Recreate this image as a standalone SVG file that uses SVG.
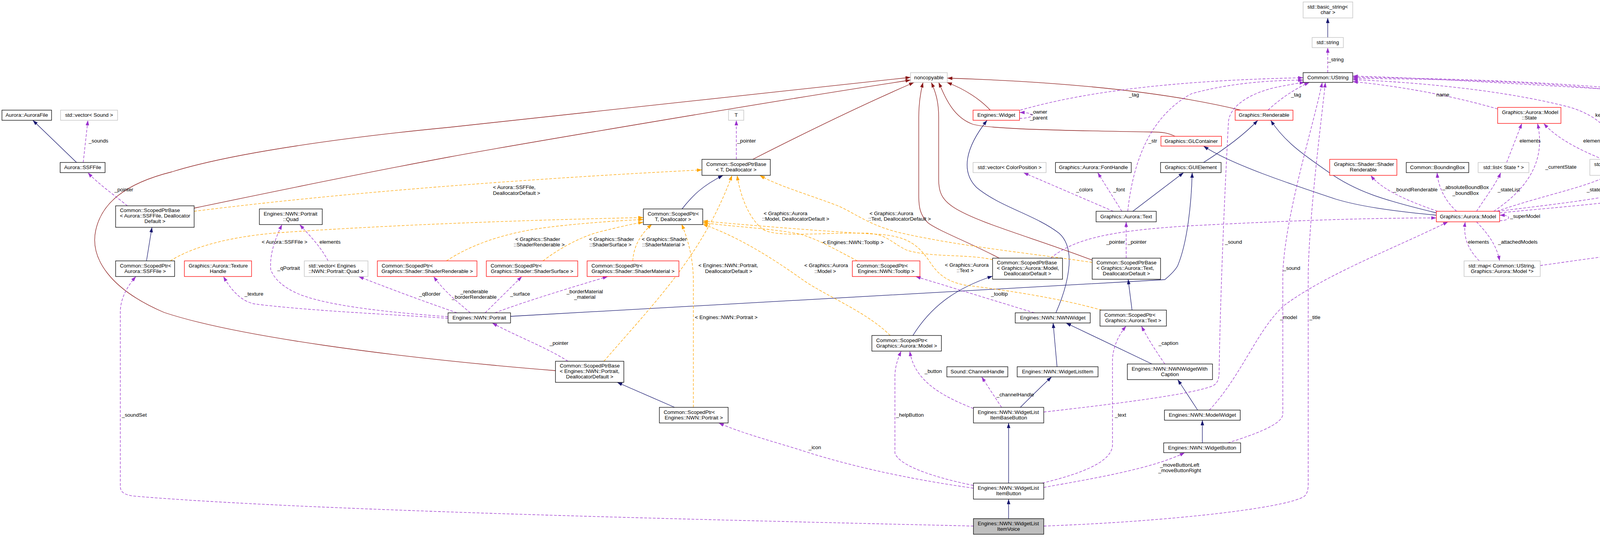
<svg xmlns="http://www.w3.org/2000/svg" width="4601" height="1375" viewBox="0 0 4601 1375">
<style>
text{font-family:"Liberation Sans",Arial,Helvetica,sans-serif;font-size:13.3px;fill:#000}
.m{text-anchor:middle}
rect.b{fill:#fff;stroke:#000;stroke-width:1.3}
rect.r{fill:#fff;stroke:#ff0000;stroke-width:1.3}
rect.g{fill:#fff;stroke:#bfbfbf;stroke-width:1.3}
rect.main{fill:#bfbfbf;stroke:#000;stroke-width:1.3}
.e{fill:none;stroke-width:1.3}
.inh{stroke:#191970;marker-end:url(#aN)}
.priv{stroke:#8b1a1a;marker-end:url(#aM)}
.use{stroke:#9a32cd;stroke-dasharray:7,4;marker-end:url(#aP)}
.tpl{stroke:#ffa500;stroke-dasharray:7,4;marker-end:url(#aO)}
</style>
<defs>
<marker id="aN" markerUnits="userSpaceOnUse" markerWidth="14" markerHeight="10" refX="13" refY="4.5" orient="auto"><path d="M0,0 L13,4.5 L0,9 z" fill="#191970"/></marker>
<marker id="aM" markerUnits="userSpaceOnUse" markerWidth="14" markerHeight="10" refX="13" refY="4.5" orient="auto"><path d="M0,0 L13,4.5 L0,9 z" fill="#8b1a1a"/></marker>
<marker id="aP" markerUnits="userSpaceOnUse" markerWidth="14" markerHeight="10" refX="13" refY="4.5" orient="auto"><path d="M0,0 L13,4.5 L0,9 z" fill="#9a32cd"/></marker>
<marker id="aO" markerUnits="userSpaceOnUse" markerWidth="14" markerHeight="10" refX="13" refY="4.5" orient="auto"><path d="M0,0 L13,4.5 L0,9 z" fill="#ffa500"/></marker>
</defs>
<rect x="0" y="0" width="4601" height="1375" fill="#fff"/>
<g id="edges">
<path class="e inh" d="M196,416 L84,308"/>
<path class="e inh" d="M3399,96 L3399,46"/>
<path class="e inh" d="M375,668 L389,582"/>
<path class="e inh" d="M1746,535 C1775,498 1800,475 1851,449"/>
<path class="e inh" d="M1727,1043 L1580,979"/>
<path class="e inh" d="M2337,859 C2380,790 2440,740 2541,707"/>
<path class="e inh" d="M2898,794 L2888,715"/>
<path class="e inh" d="M2900,541 L3030,442"/>
<path class="e inh" d="M3081,416 C3130,385 3180,350 3220,308"/>
<path class="e inh" d="M3677,545 C3540,512 3470,490 3400,440 C3340,398 3290,365 3253,308"/>
<path class="e inh" d="M3677,551 C3560,540 3480,528 3420,510 C3300,470 3150,420 3081,374"/>
<path class="e inh" d="M1307,810 L2982,716 C2995,705 3010,690 3015,680 C3040,620 3050,520 3052,442"/>
<path class="e inh" d="M2703,801 C2730,740 2760,640 2711,597 C2650,550 2560,530 2500,480 C2460,440 2470,380 2527,308"/>
<path class="e inh" d="M2706,939 L2696,827"/>
<path class="e inh" d="M2949,932 L2729,827"/>
<path class="e inh" d="M3066,1050 L3015,972"/>
<path class="e inh" d="M3078,1134 L3078,1076"/>
<path class="e inh" d="M2612,1043 C2630,1025 2660,995 2692,965"/>
<path class="e inh" d="M2582,1237 L2582,1083"/>
<path class="e inh" d="M2582,1328 L2582,1278"/>
<path class="e priv" d="M497,533 C750,480 1000,430 1150,402 S2000,255 2331,205"/>
<path class="e priv" d="M1422,949 C1000,915 600,860 420,800 C280,740 230,660 245,590 C260,520 320,470 440,440 C600,390 900,350 1150,326 L2331,198"/>
<path class="e priv" d="M1927,408 C2100,320 2250,250 2340,211"/>
<path class="e priv" d="M2558,661 C2480,620 2400,590 2375,570 C2355,550 2352,530 2352,500 L2352,300 C2352,260 2358,230 2363,211"/>
<path class="e priv" d="M2796,666 C2650,610 2500,570 2440,530 C2410,510 2403,490 2403,460 L2403,300 C2403,260 2395,235 2384,211"/>
<path class="e priv" d="M2535,282 C2510,255 2470,228 2424,211"/>
<path class="e priv" d="M3176,282 Q2900,215 2425,200"/>
<path class="e priv" d="M3008,349 C2990,340 2975,338 2950,338 C2700,334 2530,330 2490,318 C2440,300 2420,250 2403,211"/>
<path class="e use" d="M213,416 L225,308"/>
<path class="e use" d="M326,527 C300,505 250,470 225,442"/>
<path class="e use" d="M1885,408 L1885,308"/>
<path class="e use" d="M2610,303 C2630,303 2642,299 2642,295 C2642,291 2630,288 2610,288"/>
<path class="e use" d="M2612,282 C2800,228 3050,205 3336,199"/>
<path class="e use" d="M3246,282 C3280,250 3320,225 3352,211"/>
<path class="e use" d="M3399,186 L3399,122"/>
<path class="e use" d="M2887,541 C2900,420 2940,300 3050,240 C3150,212 3250,206 3336,205"/>
<path class="e use" d="M2850,541 L2620,442"/>
<path class="e use" d="M2872,541 L2810,442"/>
<path class="e use" d="M2690,661 C2750,610 2850,590 3050,578 C3300,565 3500,558 3677,558"/>
<path class="e use" d="M2883,661 L2883,568"/>
<path class="e use" d="M3680,541 C3620,520 3540,490 3509,449"/>
<path class="e use" d="M3729,541 C3700,515 3682,480 3679,442"/>
<path class="e use" d="M3780,541 C3800,510 3830,470 3842,442"/>
<path class="e use" d="M3824,541 C3900,490 3960,420 3936,316"/>
<path class="e use" d="M3832,541 C3950,500 4060,480 4117,449"/>
<path class="e use" d="M3834,541 C4000,520 4200,500 4260,460 C4285,430 4285,410 4277,382"/>
<path class="e use" d="M3839,545 C4050,525 4250,510 4330,480 C4370,460 4375,420 4372,380 C4365,300 4330,250 4230,235 C4000,210 3700,200 3463,198"/>
<path class="e use" d="M3839,565 C3855,565 3862,561 3862,557 C3862,553 3855,551 3839,551"/>
<path class="e use" d="M3780,568 C3800,590 3830,620 3839,668"/>
<path class="e use" d="M3787,668 C3760,640 3745,610 3751,568"/>
<path class="e use" d="M3943,680 C4150,650 4400,620 4500,590 C4550,575 4561,560 4561,540 L4561,290 C4561,240 4530,220 4480,220 C4400,220 4350,238 4290,237 C4100,230 3700,200 3463,195"/>
<path class="e use" d="M3834,279 C3700,240 3560,218 3463,209"/>
<path class="e use" d="M3857,416 L3896,316"/>
<path class="e use" d="M4103,408 C4060,390 3990,360 3952,316"/>
<path class="e use" d="M4154,408 C4130,340 4100,300 4020,275 C3850,230 3620,210 3463,204"/>
<path class="e use" d="M4249,342 C4220,280 4190,245 4120,230 C3950,210 3700,202 3463,201"/>
<path class="e use" d="M1147,811 C1000,800 850,785 770,755 C720,735 700,710 693,690 C690,650 705,610 722,575"/>
<path class="e use" d="M1170,801 C1080,770 1000,740 918,708"/>
<path class="e use" d="M1147,815 C1000,805 780,795 650,778 C615,770 590,740 572,708"/>
<path class="e use" d="M1204,801 C1180,780 1140,750 1110,708"/>
<path class="e use" d="M1242,801 L1336,708"/>
<path class="e use" d="M1267,801 C1350,770 1450,740 1556,708"/>
<path class="e use" d="M1454,925 C1400,890 1320,860 1260,827"/>
<path class="e use" d="M840,668 C820,630 790,600 767,575"/>
<path class="e use" d="M2648,801 L2344,708"/>
<path class="e use" d="M2982,932 C2960,900 2940,870 2922,835"/>
<path class="e use" d="M3096,1050 C3180,960 3220,840 3290,780 C3400,700 3560,640 3707,568"/>
<path class="e use" d="M3143,1134 C3220,1110 3284,1085 3284,1060 L3284,700 C3290,550 3360,330 3385,211"/>
<path class="e use" d="M2672,1055 C2850,1035 3050,1010 3105,988 C3118,980 3121,970 3121,950 C3125,700 3140,400 3145,310 C3150,270 3200,240 3260,225 C3300,217 3320,213 3340,211"/>
<path class="e use" d="M2492,1046 C2400,1010 2340,970 2329,899"/>
<path class="e use" d="M2564,1043 L2513,965"/>
<path class="e use" d="M2492,1243 C2380,1220 2300,1190 2291,1160 L2291,960 C2292,935 2300,915 2307,899"/>
<path class="e use" d="M2492,1250 C2350,1230 2200,1200 2067,1158 C1980,1130 1900,1110 1840,1083"/>
<path class="e use" d="M2668,1237 C2780,1210 2846,1180 2848,1140 L2848,920 C2850,880 2870,850 2883,835"/>
<path class="e use" d="M2672,1248 C2800,1225 2950,1200 3033,1159"/>
<path class="e use" d="M2492,1347 C2000,1335 800,1310 340,1270 C315,1266 308,1258 308,1245 L308,800 C308,770 320,740 348,708"/>
<path class="e use" d="M2672,1347 C3000,1335 3300,1300 3340,1270 C3348,1262 3349,1250 3349,1240 L3349,700 C3352,550 3380,330 3393,211"/>
<path class="e tpl" d="M497,541 C900,490 1400,455 1797,435"/>
<path class="e tpl" d="M436,668 C480,640 560,610 700,597 C1000,575 1400,562 1647,557"/>
<path class="e tpl" d="M1143,668 C1200,630 1280,600 1380,585 C1450,575 1560,566 1647,562"/>
<path class="e tpl" d="M1390,668 C1440,630 1500,600 1550,590 C1590,580 1620,573 1647,569"/>
<path class="e tpl" d="M1620,668 C1622,630 1640,600 1669,574"/>
<path class="e tpl" d="M1546,925 C1680,770 1800,650 1874,449"/>
<path class="e tpl" d="M1775,1043 L1775,720 C1775,660 1760,610 1745,574"/>
<path class="e tpl" d="M2541,665 C2480,650 2380,660 2320,640 C2280,620 2270,600 2220,597 C2100,595 1980,610 1950,585 C1915,555 1895,500 1887,449"/>
<path class="e tpl" d="M2796,672 C2650,650 2450,630 2300,595 C2220,575 2180,540 2140,525 C2060,495 1990,475 1945,449"/>
<path class="e tpl" d="M2279,859 C2220,800 2120,760 2060,720 C1990,670 1900,610 1799,574"/>
<path class="e tpl" d="M2820,794 C2700,760 2550,740 2470,730 C2420,720 2400,700 2380,670 C2350,625 2320,605 2250,600 C2100,592 1900,575 1799,566"/>
<path class="e tpl" d="M2195,668 C2140,640 2100,615 2050,600 C1980,585 1870,580 1799,570"/>
<g id="edge-labels">
<text x="227" y="365">_sounds</text>
<text x="293" y="490">_pointer</text>
<text x="1262" y="484">&lt; Aurora::SSFFile,</text>
<text x="1262" y="499">DeallocatorDefault &gt;</text>
<text x="670" y="624">&lt; Aurora::SSFFile &gt;</text>
<text x="818" y="624">elements</text>
<text x="1887" y="365">_pointer</text>
<text x="1319" y="617">&lt; Graphics::Shader</text>
<text x="1315" y="631">::ShaderRenderable &gt;</text>
<text x="1508" y="617">&lt; Graphics::Shader</text>
<text x="1509" y="631">::ShaderSurface &gt;</text>
<text x="1643" y="617">&lt; Graphics::Shader</text>
<text x="1644" y="631">::ShaderMaterial &gt;</text>
<text x="1955" y="551">&lt; Graphics::Aurora</text>
<text x="1951" y="565">::Model, DeallocatorDefault &gt;</text>
<text x="2226" y="551">&lt; Graphics::Aurora</text>
<text x="2223" y="565">::Text, DeallocatorDefault &gt;</text>
<text x="2106" y="625">&lt; Engines::NWN::Tooltip &gt;</text>
<text x="1788" y="684">&lt; Engines::NWN::Portrait,</text>
<text x="1805" y="699">DeallocatorDefault &gt;</text>
<text x="2059" y="684">&lt; Graphics::Aurora</text>
<text x="2085" y="699">::Model &gt;</text>
<text x="2419" y="683">&lt; Graphics::Aurora</text>
<text x="2449" y="697">::Text &gt;</text>
<text x="1779" y="817">&lt; Engines::NWN::Portrait &gt;</text>
<text class="m" x="2659" y="291">_owner</text>
<text class="m" x="2659" y="306">_parent</text>
<text x="2890" y="247">_tag</text>
<text x="3305" y="247">_tag</text>
<text x="3400" y="157">_string</text>
<text x="2940" y="365">_str</text>
<text x="2755" y="490">_colors</text>
<text x="2850" y="490">_font</text>
<text x="2832" y="624">_pointer</text>
<text x="2887" y="624">_pointer</text>
<text x="3136" y="624">_sound</text>
<text x="3285" y="691">_sound</text>
<text x="3677" y="247">name</text>
<text x="4084" y="299">keys</text>
<text x="4170" y="247">elements</text>
<text x="4565" y="432">keys</text>
<text x="3890" y="365">elements</text>
<text x="3956" y="432">_currentState</text>
<text x="4053" y="365">elements</text>
<text x="4284" y="432">_stateNames</text>
<text class="m" x="4419" y="351">_fileName</text>
<text class="m" x="4419" y="365">_name</text>
<text class="m" x="4419" y="379">_superModelName</text>
<text x="3567" y="490">_boundRenderable</text>
<text class="m" x="3752" y="484">_absoluteBoundBox</text>
<text class="m" x="3752" y="499">_boundBox</text>
<text x="3834" y="490">_stateList</text>
<text x="4062" y="490">_stateMap</text>
<text x="3866" y="558">_superModel</text>
<text x="3758" y="624">elements</text>
<text x="3835" y="624">_attachedModels</text>
<text x="626" y="757">_texture</text>
<text x="710" y="691">_qPortrait</text>
<text x="1073" y="757">_qBorder</text>
<text class="m" x="1214" y="751">_renderable</text>
<text class="m" x="1214" y="765">_borderRenderable</text>
<text x="1306" y="757">_surface</text>
<text class="m" x="1497" y="751">_borderMaterial</text>
<text class="m" x="1497" y="765">_material</text>
<text x="1407" y="883">_pointer</text>
<text x="2070" y="1150">_icon</text>
<text x="312" y="1067">_soundSet</text>
<text x="2537" y="757">_tooltip</text>
<text x="2966" y="883">_caption</text>
<text x="2367" y="955">_button</text>
<text x="2551" y="1015">_channelHandle</text>
<text x="2294" y="1067">_helpButton</text>
<text x="2854" y="1067">_text</text>
<text x="3277" y="817">_model</text>
<text x="3352" y="817">_title</text>
<text class="m" x="3020" y="1195">_moveButtonLeft</text>
<text class="m" x="3020" y="1209">_moveButtonRight</text>
</g>
</g>
<g id="n_aurorafile"><rect class="b" x="5" y="282" width="127" height="26"/><text class="m" x="68.5" y="299">Aurora::AuroraFile</text></g>
<g id="n_vecsound"><rect class="g" x="155" y="282" width="146" height="26"/><text class="m" x="228" y="299">std::vector&lt; Sound &gt;</text></g>
<g id="n_ssffile"><rect class="b" x="154" y="416" width="115" height="26"/><text class="m" x="211.5" y="433">Aurora::SSFFile</text></g>
<g id="n_spb_ssf"><rect class="b" x="296" y="527" width="201" height="55"/><text x="307" y="543">Common::ScopedPtrBase</text><text x="307" y="557">&lt; Aurora::SSFFile, Deallocator</text><text class="m" x="396.5" y="571">Default &gt;</text></g>
<g id="n_quad"><rect class="b" x="664" y="535" width="161" height="40"/><text x="675" y="552">Engines::NWN::Portrait</text><text class="m" x="744.5" y="566">::Quad</text></g>
<g id="n_sp_ssf"><rect class="b" x="296" y="668" width="151" height="40"/><text x="307" y="685">Common::ScopedPtr&lt;</text><text class="m" x="371.5" y="699">Aurora::SSFFile &gt;</text></g>
<g id="n_texture"><rect class="r" x="472" y="668" width="172" height="40"/><text x="483" y="685">Graphics::Aurora::Texture</text><text class="m" x="558" y="699">Handle</text></g>
<g id="n_vecquad"><rect class="g" x="779" y="668" width="163" height="40"/><text x="790" y="685">std::vector&lt; Engines</text><text class="m" x="860.5" y="699">::NWN::Portrait::Quad &gt;</text></g>
<g id="n_sp_shrend"><rect class="r" x="966" y="668" width="255" height="40"/><text x="977" y="685">Common::ScopedPtr&lt;</text><text class="m" x="1093.5" y="699">Graphics::Shader::ShaderRenderable &gt;</text></g>
<g id="n_sp_shsurf"><rect class="r" x="1245" y="668" width="234" height="40"/><text x="1256" y="685">Common::ScopedPtr&lt;</text><text class="m" x="1362" y="699">Graphics::Shader::ShaderSurface &gt;</text></g>
<g id="n_sp_shmat"><rect class="r" x="1503" y="668" width="235" height="40"/><text x="1514" y="685">Common::ScopedPtr&lt;</text><text class="m" x="1620.5" y="699">Graphics::Shader::ShaderMaterial &gt;</text></g>
<g id="n_T"><rect class="g" x="1865" y="282" width="39" height="26"/><text class="m" x="1884.5" y="299">T</text></g>
<g id="n_spb_T"><rect class="b" x="1797" y="408" width="175" height="41"/><text x="1808" y="425">Common::ScopedPtrBase</text><text class="m" x="1884.5" y="439">&lt; T, Deallocator &gt;</text></g>
<g id="n_sp_T"><rect class="b" x="1647" y="535" width="152" height="40"/><text x="1658" y="552">Common::ScopedPtr&lt;</text><text class="m" x="1723" y="566">T, Deallocator &gt;</text></g>
<g id="n_sp_tooltip"><rect class="r" x="2182" y="668" width="173" height="40"/><text x="2193" y="685">Common::ScopedPtr&lt;</text><text class="m" x="2268.5" y="699">Engines::NWN::Tooltip &gt;</text></g>
<g id="n_noncopyable"><rect class="g" x="2331" y="186" width="94" height="25"/><text class="m" x="2378" y="203">noncopyable</text></g>
<g id="n_widget"><rect class="r" x="2491" y="282" width="119" height="26"/><text class="m" x="2550.5" y="299">Engines::Widget</text></g>
<g id="n_renderable"><rect class="r" x="3162" y="282" width="148" height="26"/><text class="m" x="3236" y="299">Graphics::Renderable</text></g>
<g id="n_glcontainer"><rect class="r" x="2972" y="349" width="155" height="25"/><text class="m" x="3049.5" y="366">Graphics::GLContainer</text></g>
<g id="n_veccolor"><rect class="g" x="2491" y="416" width="187" height="26"/><text class="m" x="2584.5" y="433">std::vector&lt; ColorPosition &gt;</text></g>
<g id="n_fonthandle"><rect class="b" x="2702" y="416" width="194" height="26"/><text class="m" x="2799" y="433">Graphics::Aurora::FontHandle</text></g>
<g id="n_guielement"><rect class="b" x="2971" y="416" width="155" height="26"/><text class="m" x="3048.5" y="433">Graphics::GUIElement</text></g>
<g id="n_shrend"><rect class="r" x="3404" y="408" width="172" height="41"/><text x="3415" y="425">Graphics::Shader::Shader</text><text class="m" x="3490" y="439">Renderable</text></g>
<g id="n_text"><rect class="b" x="2806" y="541" width="154" height="27"/><text class="m" x="2883" y="559">Graphics::Aurora::Text</text></g>
<g id="n_spb_model"><rect class="b" x="2541" y="661" width="179" height="54"/><text x="2552" y="677">Common::ScopedPtrBase</text><text x="2552" y="691">&lt; Graphics::Aurora::Model,</text><text class="m" x="2630.5" y="705">DeallocatorDefault &gt;</text></g>
<g id="n_spb_text"><rect class="b" x="2796" y="661" width="175" height="54"/><text x="2807" y="677">Common::ScopedPtrBase</text><text x="2807" y="691">&lt; Graphics::Aurora::Text,</text><text class="m" x="2883.5" y="705">DeallocatorDefault &gt;</text></g>
<g id="n_basicstring"><rect class="g" x="3336" y="5" width="127" height="41"/><text x="3347" y="22">std::basic_string&lt;</text><text class="m" x="3399.5" y="36">char &gt;</text></g>
<g id="n_stdstring"><rect class="g" x="3359" y="96" width="80" height="26"/><text class="m" x="3399" y="113">std::string</text></g>
<g id="n_ustring"><rect class="b" x="3336" y="186" width="127" height="25"/><text class="m" x="3399.5" y="203">Common::UString</text></g>
<g id="n_state"><rect class="r" x="3834" y="275" width="162" height="41"/><text x="3845" y="292">Graphics::Aurora::Model</text><text class="m" x="3915" y="306">::State</text></g>
<g id="n_listustring"><rect class="g" x="4193" y="342" width="139" height="40"/><text x="4204" y="359">std::list&lt; Common::</text><text class="m" x="4262.5" y="373">UString &gt;</text></g>
<g id="n_bbox"><rect class="b" x="3600" y="416" width="160" height="26"/><text class="m" x="3680" y="433">Common::BoundingBox</text></g>
<g id="n_liststate"><rect class="g" x="3784" y="416" width="130" height="26"/><text class="m" x="3849" y="433">std::list&lt; State * &gt;</text></g>
<g id="n_mapstate"><rect class="g" x="4070" y="408" width="194" height="41"/><text x="4081" y="425">std::map&lt; Common::UString,</text><text class="m" x="4167" y="439">State * &gt;</text></g>
<g id="n_model"><rect class="r" x="3677" y="541" width="162" height="27"/><text class="m" x="3758" y="559">Graphics::Aurora::Model</text></g>
<g id="n_mapmodel"><rect class="g" x="3748" y="668" width="195" height="40"/><text x="3759" y="685">std::map&lt; Common::UString,</text><text class="m" x="3845.5" y="699">Graphics::Aurora::Model *&gt;</text></g>
<g id="n_portrait"><rect class="b" x="1147" y="801" width="160" height="26"/><text class="m" x="1227" y="818">Engines::NWN::Portrait</text></g>
<g id="n_spb_portrait"><rect class="b" x="1422" y="925" width="175" height="54"/><text x="1433" y="941">Common::ScopedPtrBase</text><text x="1433" y="955">&lt; Engines::NWN::Portrait,</text><text class="m" x="1509.5" y="969">DeallocatorDefault &gt;</text></g>
<g id="n_sp_portrait"><rect class="b" x="1688" y="1043" width="176" height="40"/><text x="1699" y="1060">Common::ScopedPtr&lt;</text><text class="m" x="1776" y="1074">Engines::NWN::Portrait &gt;</text></g>
<g id="n_sp_model"><rect class="b" x="2232" y="859" width="178" height="40"/><text x="2243" y="876">Common::ScopedPtr&lt;</text><text class="m" x="2321" y="890">Graphics::Aurora::Model &gt;</text></g>
<g id="n_nwnwidget"><rect class="b" x="2599" y="801" width="192" height="26"/><text class="m" x="2695" y="818">Engines::NWN::NWNWidget</text></g>
<g id="n_sp_text"><rect class="b" x="2816" y="794" width="170" height="41"/><text x="2827" y="811">Common::ScopedPtr&lt;</text><text class="m" x="2901" y="825">Graphics::Aurora::Text &gt;</text></g>
<g id="n_channel"><rect class="b" x="2424" y="939" width="156" height="26"/><text class="m" x="2502" y="956">Sound::ChannelHandle</text></g>
<g id="n_wli"><rect class="b" x="2604" y="939" width="207" height="26"/><text class="m" x="2707.5" y="956">Engines::NWN::WidgetListItem</text></g>
<g id="n_nwnwwc"><rect class="b" x="2886" y="932" width="218" height="40"/><text x="2897" y="949">Engines::NWN::NWNWidgetWith</text><text class="m" x="2995" y="963">Caption</text></g>
<g id="n_wlibb"><rect class="b" x="2492" y="1043" width="180" height="40"/><text x="2503" y="1060">Engines::NWN::WidgetList</text><text class="m" x="2582" y="1074">ItemBaseButton</text></g>
<g id="n_modelwidget"><rect class="b" x="2981" y="1050" width="194" height="26"/><text class="m" x="3078" y="1067">Engines::NWN::ModelWidget</text></g>
<g id="n_widgetbutton"><rect class="b" x="2979" y="1134" width="197" height="25"/><text class="m" x="3077.5" y="1151">Engines::NWN::WidgetButton</text></g>
<g id="n_wlib"><rect class="b" x="2492" y="1237" width="180" height="41"/><text x="2503" y="1254">Engines::NWN::WidgetList</text><text class="m" x="2582" y="1268">ItemButton</text></g>
<g id="n_wliv"><rect class="main" x="2492" y="1328" width="180" height="40"/><text x="2503" y="1345">Engines::NWN::WidgetList</text><text class="m" x="2582" y="1359">ItemVoice</text></g>
</svg>
